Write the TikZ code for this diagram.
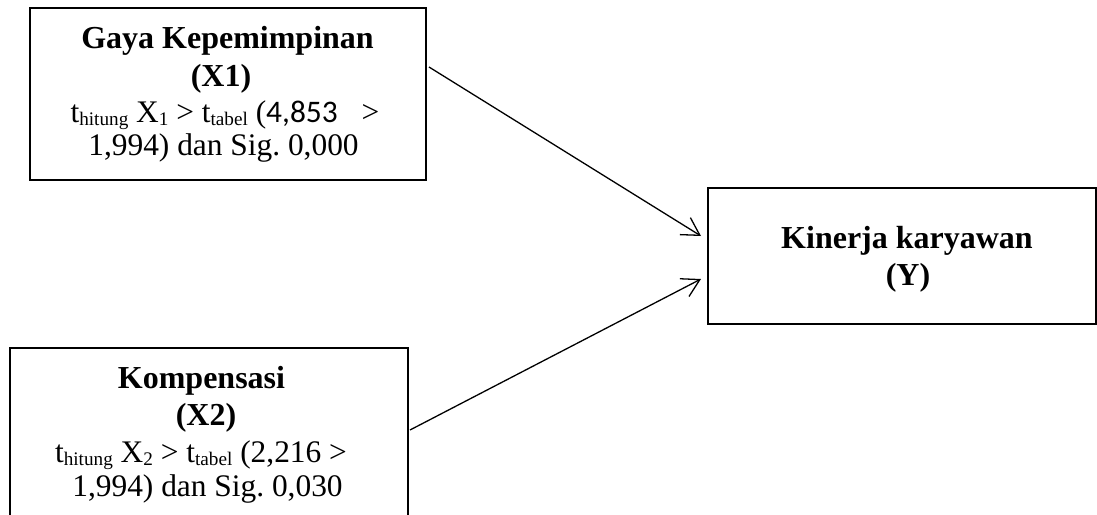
\documentclass[tikz,border=0pt]{standalone}
\usepackage{fontspec}
\setmainfont{Liberation Serif}
\newfontfamily\calib{Carlito}
\usetikzlibrary{arrows.meta}
\newcommand\lowsub[1]{\raisebox{-1.8pt}{\fontsize{9.6}{10}\selectfont #1}}
\begin{document}
\frenchspacing
\begin{tikzpicture}[x=0.5pt,y=-0.5pt,
  box/.style={draw, line width=1pt, inner sep=0pt},
  ln/.style={anchor=base, inner sep=0pt, font=\fontsize{15.7}{17}\selectfont},
  bln/.style={anchor=base, inner sep=0pt, font=\fontsize{16}{17}\selectfont\bfseries},
  conn/.style={line width=0.65pt, -{Straight Barb[length=8.7pt,width=10pt,line width=0.65pt]}}]
\useasboundingbox (0,0) rectangle (1097,514);
% boxes
\node[box, minimum width=197.75pt, minimum height=86.25pt] (x1) at (227.75,93.75) {};
\node[box, minimum width=198.75pt, minimum height=86.25pt] (x2) at (208.75,433.75) {};
\node[box, minimum width=194pt, minimum height=68pt] (y) at (902,255.5) {};
% box 1 text
\node[bln] (x1a) at (227.5,48) {Gaya Kepemimpinan};
\node[bln] (x1b) at (221,86) {(X1)};
\node[ln] (x1c) at (225,122) {t\lowsub{hitung} X\lowsub{1} > t\lowsub{tabel} ({\calib 4,853}\hspace{12pt}>};
\node[ln] (x1d) at (223.5,155) {1,994) dan Sig. 0,000};
% box 2 text
\node[bln] (x2a) at (201.5,388) {Kompensasi};
\node[bln] (x2b) at (206,425) {(X2)};
\node[ln] (x2c) at (201,462) {t\lowsub{hitung} X\lowsub{2} > t\lowsub{tabel} (2,216 >};
\node[ln] (x2d) at (207.5,496) {1,994) dan Sig. 0,030};
% box Y text
\node[bln] (ya) at (907,248) {Kinerja karyawan};
\node[bln] (yb) at (908,285) {(Y)};
% connectors
\coordinate (s1) at (429,67);
\coordinate (e1) at (701,236);
\coordinate (s2) at (410,430);
\coordinate (e2) at (701,279);
\draw[conn] (s1) -- (e1);
\draw[conn] (s2) -- (e2);
\end{tikzpicture}
\end{document}
